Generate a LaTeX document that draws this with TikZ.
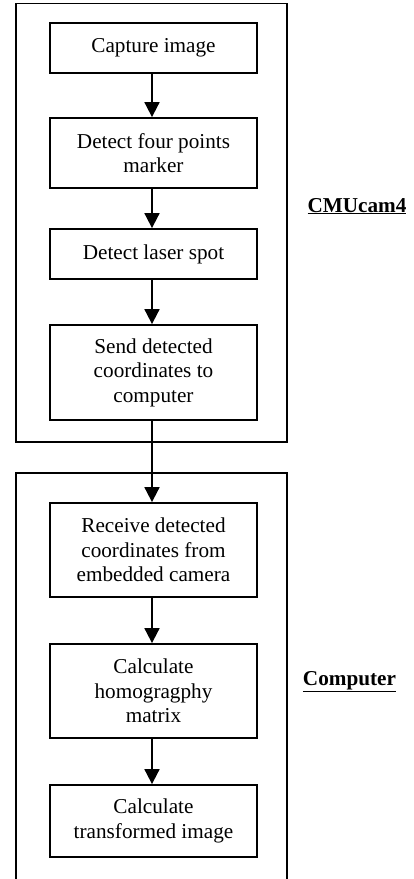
\documentclass[tikz,border=0pt]{standalone}
\usepackage{fontspec}
\setmainfont{Liberation Serif}
\usetikzlibrary{arrows.meta}
\begin{document}
\begin{tikzpicture}[x=1pt,y=-1pt,
  stepbox/.style={draw,line width=1.8pt,minimum width=207pt,inner sep=0pt,align=center,
    font=\fontsize{21.2}{24.4}\selectfont},
  grp/.style={draw,line width=1.4pt},
  flow/.style={line width=1.8pt,-{Triangle[width=15pt,length=15pt]}},
  lab/.style={font=\fontsize{21.2}{24.4}\selectfont\bfseries,inner sep=0pt,anchor=base}]
\useasboundingbox (0,0) rectangle (413,879);
\clip (0,0) rectangle (413,879);
\draw[grp] (16,3.5) rectangle (287,442);
\draw[grp] (16,473) rectangle (287,884);
\node[stepbox,minimum height=50pt] (b1) at (153.5,48) {Capture image};
\node[stepbox,minimum height=70pt] (b2) at (153.5,153) {Detect four points\\marker};
\node[stepbox,minimum height=50pt] (b3) at (153.5,254) {Detect laser spot};
\node[stepbox,minimum height=95pt] (b4) at (153.5,372.5) {Send detected\\coordinates to\\computer};
\node[stepbox,minimum height=94pt] (b5) at (153.5,550) {Receive detected\\coordinates from\\embedded camera};
\node[stepbox,minimum height=94pt] (b6) at (153.5,691) {Calculate\\homogragphy\\matrix};
\node[stepbox,minimum height=72pt] (b7) at (153.5,821) {Calculate\\transformed image};
\foreach \a/\b in {b1/b2,b2/b3,b3/b4,b4/b5,b5/b6,b6/b7}
  \draw[flow] ([xshift=-1.5pt]\a.south) -- ([xshift=-1.5pt]\b.north);
\node[lab] (l1) at (357,212) {\underline{CMUcam4}};
\node[lab] (l2) at (349.5,685) {\underline{Computer}};
\end{tikzpicture}
\end{document}
